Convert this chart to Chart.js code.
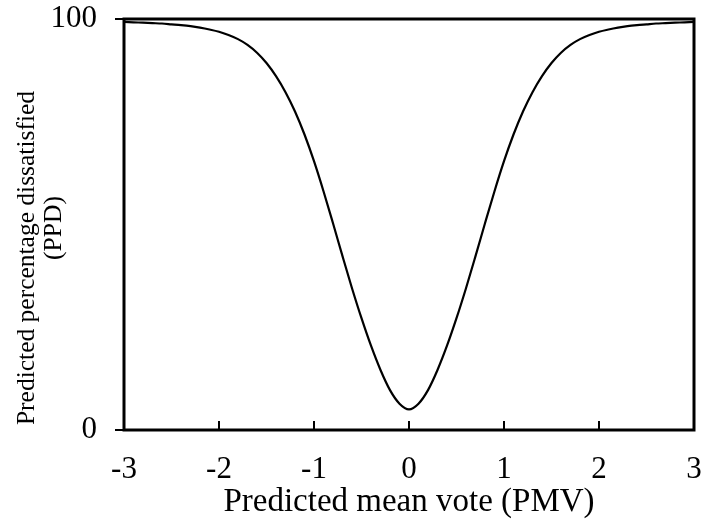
<!DOCTYPE html>
<html><head><meta charset="utf-8">
<script src="https://cdn.jsdelivr.net/npm/chart.js@4/dist/chart.umd.min.js"></script>
<style>html,body{margin:0;padding:0;background:#fff;}canvas{display:block;}</style>
</head><body>
<canvas id="c" width="703" height="519"></canvas>
<script>
const pmv = [-3,-2.9,-2.8,-2.7,-2.6,-2.5,-2.4,-2.3,-2.2,-2.1,-2,-1.9,-1.8,-1.7,-1.6,-1.5,-1.4,-1.3,-1.2,-1.1,-1,-0.9,-0.8,-0.7,-0.6,-0.5,-0.4,-0.3,-0.2,-0.1,0,0.1,0.2,0.3,0.4,0.5,0.6,0.7,0.8,0.9,1,1.1,1.2,1.3,1.4,1.5,1.6,1.7,1.8,1.9,2,2.1,2.2,2.3,2.4,2.5,2.6,2.7,2.8,2.9,3];
const ppd = [99.3,99.2,99.1,99.0,98.9,98.7,98.5,98.25,97.9,97.45,96.9,96.1,95.1,93.7,91.8,89.3,86.1,82.2,77.5,71.9,65.4,58.1,50.3,42.3,34.5,27.2,20.5,14.6,9.7,6.4,5.0,6.4,9.7,14.6,20.5,27.2,34.5,42.3,50.3,58.1,65.4,71.9,77.5,82.2,86.1,89.3,91.8,93.7,95.1,96.1,96.9,97.45,97.9,98.25,98.5,98.7,98.9,99.0,99.1,99.2,99.3];
const xTicks = [-3,-2,-1,0,1,2,3];
const yTicks = [0,100];
const xTitle = 'Predicted mean vote (PMV)';
const yTitle = ['Predicted percentage dissatisfied','(PPD)'];

const FONT = "'Liberation Serif', 'Times New Roman', serif";
const framePlugin = {
  id:'frame',
  afterDraw(chart){
    const ctx = chart.ctx, a = chart.chartArea, xs = chart.scales.x;
    ctx.save();
    ctx.strokeStyle = '#000';
    ctx.lineWidth = 2;
    xs.ticks.forEach(t=>{
      const px = Math.round(xs.getPixelForValue(t.value));
      ctx.beginPath(); ctx.moveTo(px, a.bottom); ctx.lineTo(px, a.bottom-9); ctx.stroke();
    });
    ctx.lineWidth = 3;
    ctx.strokeRect(a.left, a.top, a.right-a.left, a.bottom-a.top);
    // y-axis title (two lines, rotated)
    ctx.fillStyle = '#000';
    ctx.font = '25.5px ' + FONT;
    ctx.textAlign = 'center';
    ctx.textBaseline = 'middle';
    const pos = [[27, 258], [54, 228]];
    yTitle.forEach((t,i)=>{
      ctx.save();
      ctx.translate(pos[i][0], pos[i][1]);
      ctx.rotate(-Math.PI/2);
      ctx.fillText(t, 0, 0);
      ctx.restore();
    });
    ctx.restore();
  }
};

new Chart(document.getElementById('c'), {
  type:'scatter',
  data:{datasets:[{
    data: pmv.map((v,i)=>({x:v,y:ppd[i]})),
    showLine:true, borderColor:'#000', borderWidth:2.2, pointRadius:0, cubicInterpolationMode:'monotone', fill:false
  }]},
  options:{
    responsive:false, animation:false,
    layout:{padding:{top:19,right:9,left:0,bottom:0}},
    plugins:{legend:{display:false},tooltip:{enabled:false}},
    scales:{
      x:{type:'linear',min:-3,max:3,
        afterBuildTicks(s){s.ticks = xTicks.map(v=>({value:v}));},
        afterFit(s){s.height = 89; s.paddingLeft = 0; s.paddingRight = 0;},
        grid:{display:false,drawTicks:false},
        border:{display:false},
        ticks:{color:'#000',font:{family:FONT,size:31},padding:21,maxRotation:0,autoSkip:false},
        title:{display:true,text:xTitle,color:'#000',font:{family:FONT,size:33,lineHeight:1.0},padding:{top:0,bottom:0}}
      },
      y:{type:'linear',min:0,max:100,
        afterBuildTicks(s){s.ticks = yTicks.map(v=>({value:v}));},
        afterFit(s){s.width = 124; s.paddingTop = 0; s.paddingBottom = 0;},
        grid:{drawOnChartArea:false,drawTicks:true,tickLength:9,color:'#000',lineWidth:2},
        border:{display:false},
        ticks:{color:'#000',font:{family:FONT,size:31},padding:18,autoSkip:false},
        title:{display:false}
      }
    }
  },
  plugins:[framePlugin]
});
</script>
</body></html>
